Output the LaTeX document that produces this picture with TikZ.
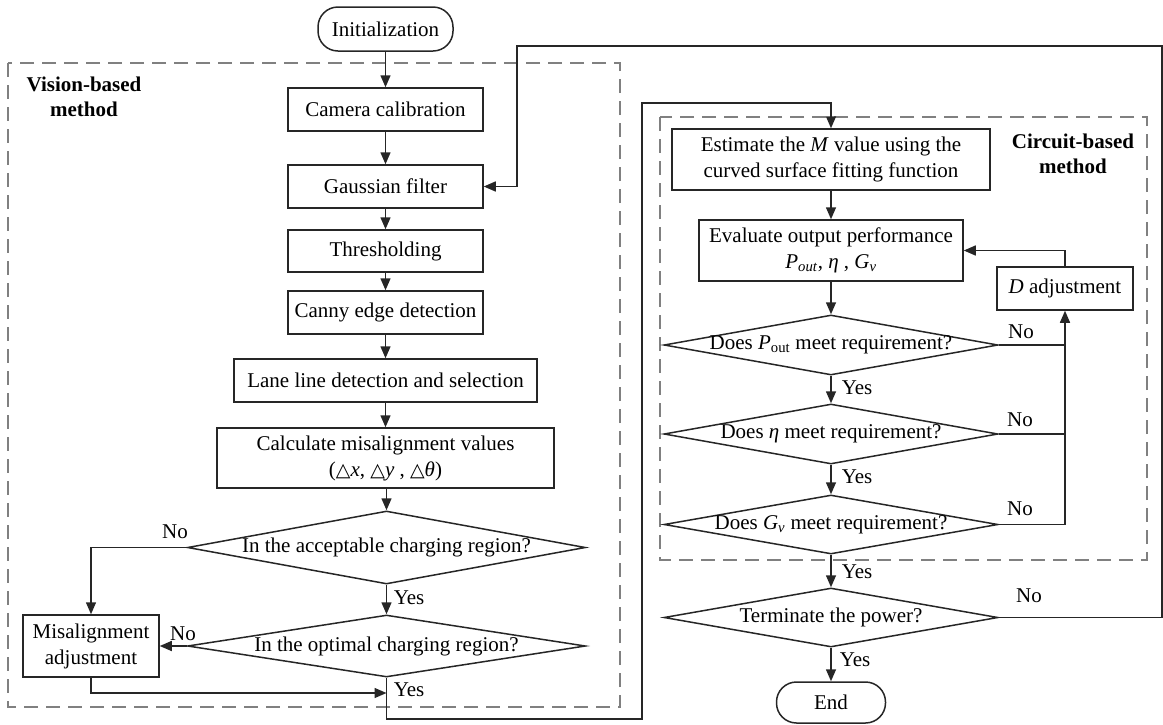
\documentclass[tikz,border=0pt]{standalone}
\usepackage{fontspec}
\setmainfont{Liberation Serif}
\newfontfamily\symfont{DejaVu Sans}
\usetikzlibrary{arrows.meta,shapes.geometric,calc}
\newcommand{\tri}{{\symfont\fontsize{19}{22}\selectfont △}}
\begin{document}
\begin{tikzpicture}[x=1pt,y=-1pt,
  font=\fontsize{21}{26}\selectfont,
  line width=1.5pt,
  box/.style={draw=black!85, rectangle, inner sep=0pt, align=center},
  pill/.style={draw=black!85, rectangle, rounded corners=20pt, inner sep=0pt},
  dia/.style={draw=black!85, diamond, inner sep=0pt},
  arr/.style={draw=black!85, -{Triangle[length=12pt,width=10pt]}},
  conn/.style={draw=black!85},
  dashbox/.style={draw=black!50, line width=1.3pt, dash pattern=on 14pt off 8pt},
  lbl/.style={inner sep=0pt},
  ttl/.style={inner sep=0pt, align=center, font=\fontsize{21}{25}\selectfont\bfseries}
]
\useasboundingbox (0,0) rectangle (1163,724);

% dashed group frames
\draw[dashbox] (8,63) rectangle (620,707);
\draw[dashbox] (660,117) rectangle (1147,560);
\node[ttl] (vtitle) at (84,97) {Vision-based\\method};
\node[ttl] (ctitle) at (1073,154) {Circuit-based\\method};

% vision column
\node[pill, minimum width=135pt, minimum height=44pt] (init) at (385.5,29) {Initialization};
\node[box, minimum width=195pt, minimum height=43pt] (cam) at (385.5,109.5) {Camera calibration};
\node[box, minimum width=195pt, minimum height=43pt] (gauss) at (385.5,186.5) {Gaussian filter};
\node[box, minimum width=195pt, minimum height=42pt] (thr) at (385.5,251) {Thresholding};
\node[box, minimum width=195pt, minimum height=43pt] (canny) at (385.5,312.5) {Canny edge detection};
\node[box, minimum width=303pt, minimum height=43pt] (lane) at (385.5,380.5) {Lane line detection and selection};
\node[box, minimum width=337pt, minimum height=60pt] (calc) at (385.5,458) {Calculate misalignment values\\(\tri\textit{x}, \tri\textit{y} , \tri\textit{θ})};
\node[dia, minimum width=398pt, minimum height=73pt] (d1) at (386.5,547.5) {};
\node[lbl] (d1t) at (d1) {In the acceptable charging region?};
\node[dia, minimum width=398pt, minimum height=62pt] (d2) at (386.5,646) {};
\node[lbl] (d2t) at (d2) {In the optimal charging region?};
\node[box, minimum width=136pt, minimum height=62pt] (mis) at (91,646) {Misalignment\\adjustment};

% circuit column
\node[box, minimum width=318pt, minimum height=61pt] (est) at (831,159.5) {Estimate the \textit{M} value using the\\curved surface fitting function};
\node[box, minimum width=264pt, minimum height=61pt] (eval) at (831,250.5) {Evaluate output performance\\\textit{P}\textsubscript{\textit{out}}, \textit{η} , \textit{G}\textsubscript{\textit{v}}};
\node[box, minimum width=136pt, minimum height=43pt] (dadj) at (1065,288.5) {\textit{D} adjustment};
\node[dia, minimum width=334pt, minimum height=60pt] (dP) at (831,345) {};
\node[lbl] (dPt) at (dP) {Does \textit{P}\textsubscript{out} meet requirement?};
\node[dia, minimum width=334pt, minimum height=60pt] (dE) at (831,434) {};
\node[lbl] (dEt) at (dE) {Does \textit{η} meet requirement?};
\node[dia, minimum width=334pt, minimum height=59pt] (dG) at (831,524.5) {};
\node[lbl] (dGt) at (dG) {Does \textit{G}\textsubscript{\textit{v}} meet requirement?};
\node[dia, minimum width=334pt, minimum height=59pt] (dT) at (831,617.5) {};
\node[lbl] (dTt) at (dT) {Terminate the power?};
\node[pill, minimum width=109pt, minimum height=41pt] (end) at (831,702.5) {End};

% helper coordinates
\coordinate (jv) at (386.5,693);
\coordinate (b1) at (386.5,719);
\coordinate (b2) at (642,719);
\coordinate (b3) at (642,103);
\coordinate (r1) at (1162,617.5);
\coordinate (r2) at (1162,46);
\coordinate (r3) at (517,46);

% vision connectors
\draw[arr] (init) -- (cam);
\draw[arr] (cam) -- (gauss);
\draw[arr] (gauss) -- (thr);
\draw[arr] (thr) -- (canny);
\draw[arr] (canny) -- (lane);
\draw[arr] (lane) -- (calc);
\draw[arr] (calc.south -| d1.north) -- (d1.north);
\draw[arr] (d1.south) -- (d2.north);
\draw[arr] (d1.west) -| (mis.north);
\draw[arr] (d2.west) -- (mis.east);
\draw[arr] (mis.south) |- (jv);
\draw[arr] (d2.south) -- (b1) -- (b2) -- (b3) -| (est.north);

% circuit connectors
\draw[arr] (est) -- (eval);
\draw[arr] (eval) -- (dP.north);
\draw[arr] (dP.south) -- (dE.north);
\draw[arr] (dE.south) -- (dG.north);
\draw[arr] (dG.south) -- (dT.north);
\draw[arr] (dT.south) -- (end);
\draw[arr] (dG.east) -| (dadj.south);
\draw[conn] (dP.east) -- (dP.east -| dadj.south);
\draw[conn] (dE.east) -- (dE.east -| dadj.south);
\draw[arr] (dadj.north) |- (eval.east);
\draw[arr] (dT.east) -- (r1) -- (r2) -- (r3) |- (gauss.east);

% labels
\node[lbl] (n1) at (175,532) {No};
\node[lbl] (n2) at (183,634) {No};
\node[lbl, anchor=west] (y1) at (393,598) {Yes};
\node[lbl, anchor=west] (y2) at (393,690) {Yes};
\node[lbl] (n3) at (1021,332) {No};
\node[lbl] (n4) at (1020,420) {No};
\node[lbl] (n5) at (1020,509) {No};
\node[lbl] (n6) at (1029,596) {No};
\node[lbl, anchor=west] (y3) at (841,388) {Yes};
\node[lbl, anchor=west] (y4) at (841,477) {Yes};
\node[lbl, anchor=west] (y5) at (841,572) {Yes};
\node[lbl, anchor=west] (y6) at (839,660) {Yes};
\end{tikzpicture}
\end{document}
